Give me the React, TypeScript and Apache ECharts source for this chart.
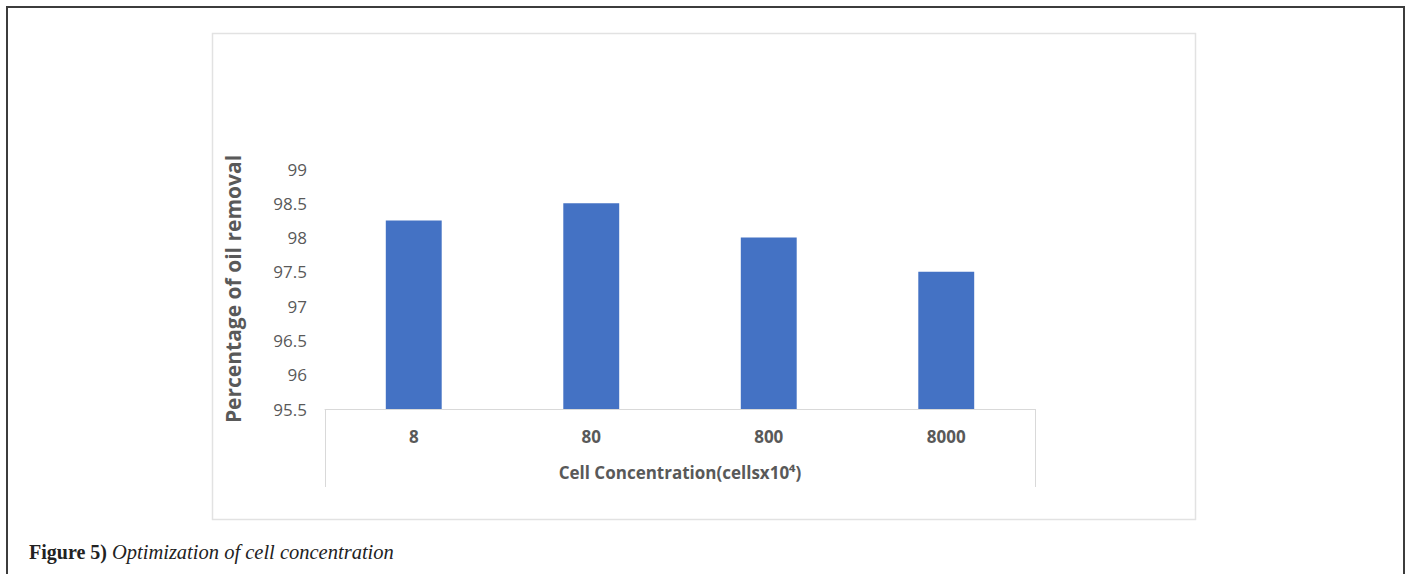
import React, { useEffect, useRef } from "react";
import * as echarts from "echarts";

const categories = ["8", "80", "800", "8000"];
const removal = [98.25, 98.5, 98.0, 97.5];
const yMin = 95.5;
const yMax = 99;
const yStep = 0.5;
const yAxisName = "Percentage of oil removal";
const xAxisName = "Cell Concentration(cellsx10\u2074)";
const captionBold = "Figure 5)";
const captionItalic = "Optimization of cell concentration";

const W = 1410;
const H = 574;
const GL = 325;
const GR = 1035;
const GT = 169;
const GB = 409;

export default function App() {
  const ref = useRef<HTMLDivElement>(null);
  useEffect(() => {
    if (!ref.current) return;
    const chart = echarts.init(ref.current, undefined, { renderer: "svg" });
    const font = "'Open Sans', 'Noto Sans', sans-serif";
    chart.setOption({
      animation: false,
      backgroundColor: "#ffffff",
      grid: { left: GL, right: W - GR, top: GT, bottom: H - GB, containLabel: false },
      title: {
        text: `{b|${captionBold}} {i|${captionItalic}}`,
        left: 29,
        top: 542,
        padding: 0,
        textStyle: {
          fontWeight: "normal",
          rich: {
            b: { fontFamily: "'Liberation Serif', serif", fontWeight: "bold", fontSize: 20, color: "#222" },
            i: { fontFamily: "'Liberation Serif', serif", fontStyle: "italic", fontWeight: "normal", fontSize: 20.5, color: "#222" },
          },
        },
      },
      xAxis: {
        type: "category",
        data: categories,
        axisLine: { show: true, lineStyle: { color: "#d9d9d9", width: 1 } },
        axisTick: { show: false },
        axisLabel: { margin: 19, fontFamily: font, fontWeight: "bold", fontSize: 17, color: "#595959" },
        name: xAxisName,
        nameLocation: "middle",
        nameGap: 55,
        nameTextStyle: { fontFamily: font, fontWeight: "bold", fontSize: 17, color: "#595959" },
      },
      yAxis: {
        type: "value",
        min: yMin,
        max: yMax,
        interval: yStep,
        axisLine: { show: false },
        axisTick: { show: false },
        splitLine: { show: false },
        axisLabel: { margin: 18, fontFamily: font, fontSize: 17, color: "#595959" },
        name: yAxisName,
        nameLocation: "middle",
        nameGap: 82,
        nameRotate: 90,
        nameTextStyle: { fontFamily: font, fontWeight: "bold", fontSize: 21, color: "#595959" },
      },
      series: [
        {
          type: "bar",
          data: removal,
          barWidth: "31.5%",
          itemStyle: { color: "#4472c4" },
        },
      ],
      graphic: [
        {
          type: "rect",
          shape: { x: 7, y: 7, width: 1397, height: 620 },
          style: { fill: "none", stroke: "#3c3c3c", lineWidth: 2 },
          silent: true,
        },
        {
          type: "rect",
          shape: { x: 212.5, y: 33.5, width: 983, height: 486 },
          style: { fill: "none", stroke: "#e2e2e2", lineWidth: 1.5 },
          silent: true,
        },
        {
          type: "line",
          shape: { x1: GL + 0.5, y1: GB, x2: GL + 0.5, y2: 487 },
          style: { stroke: "#d9d9d9", lineWidth: 1 },
          silent: true,
        },
        {
          type: "line",
          shape: { x1: GR + 0.5, y1: GB, x2: GR + 0.5, y2: 487 },
          style: { stroke: "#d9d9d9", lineWidth: 1 },
          silent: true,
        },
      ],
    });
    return () => chart.dispose();
  }, []);
  return (
    <div
      ref={ref}
      style={{ position: "fixed", left: 0, top: 0, width: W, height: H, background: "#fff" }}
    />
  );
}
